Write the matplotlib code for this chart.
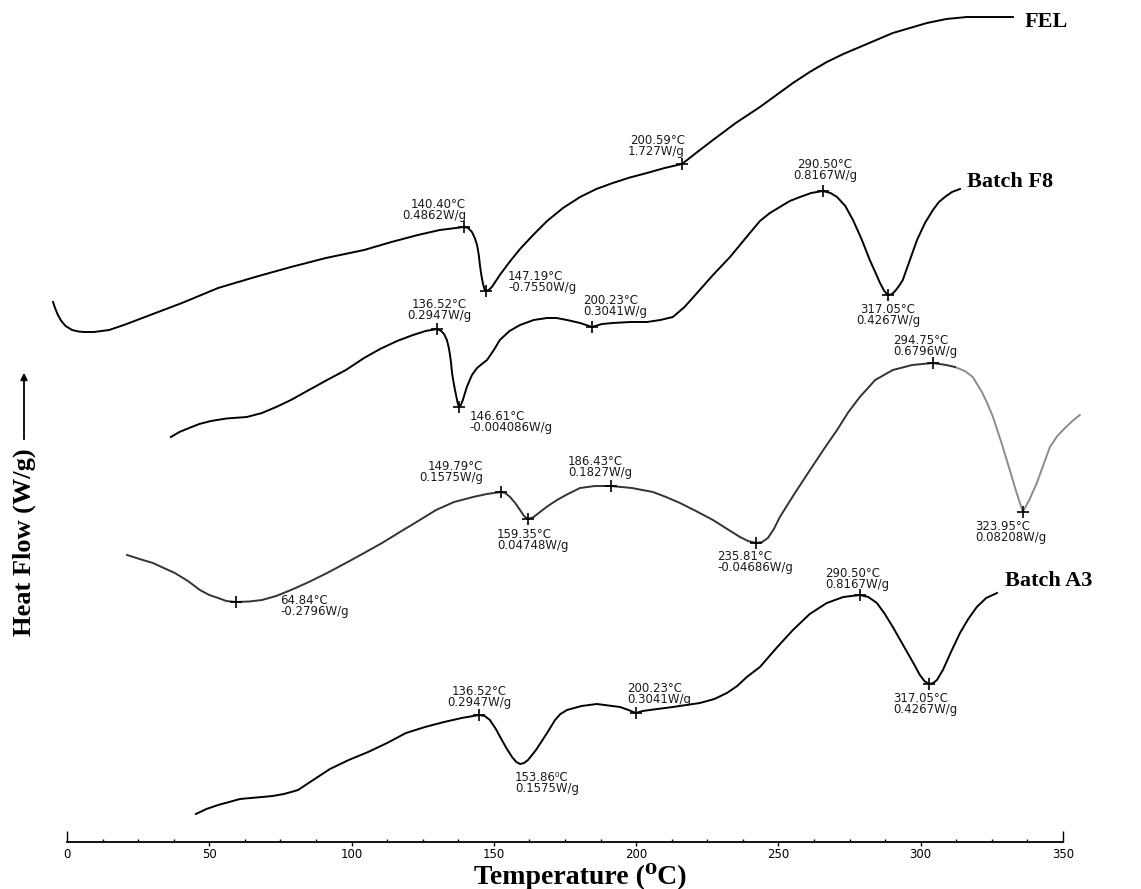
import numpy as np
import matplotlib.pyplot as plt
from matplotlib.ticker import MultipleLocator
from matplotlib.markers import TICKUP

plt.rcParams['font.family'] = ['DejaVu Sans']

# --- data ---
# x = temperature on the plot axis (°C), y = stacked heat flow (arbitrary offset units)
fel_t = [-4.9, -4.2, -3.2, -2.0, -0.5, 1.8, 4.0, 6.0, 9.5, 14.8, 20.0, 27.4, 40.4, 53.1, 66.1,
         78.7, 91.0, 104.4, 114.0, 123.3, 131.0, 139.5, 141.0, 142.3, 143.3, 144.1, 144.7,
         145.1, 145.6, 146.2, 146.7, 147.2, 148.2, 149.3, 150.7, 152.1, 155.5, 159.2, 163.8,
         168.7, 174.3, 180.3, 186.0, 191.8, 197.8, 203.8, 210.0, 216.1, 221.5, 227.0, 235.0,
         243.5, 249.3, 255.1, 261.0, 267.0, 272.8, 278.6, 284.4, 290.2, 296.2, 302.2, 309.0,
         316.2, 332.4]
fel_hf = [5.40, 5.34, 5.27, 5.21, 5.16, 5.12, 5.105, 5.10, 5.10, 5.12, 5.17, 5.25, 5.39, 5.54, 5.65,
          5.75, 5.84, 5.92, 6.00, 6.07, 6.12, 6.15, 6.14, 6.10, 6.04, 5.97, 5.87,
          5.77, 5.67, 5.58, 5.53, 5.51, 5.52, 5.55, 5.61, 5.67, 5.80, 5.93, 6.07,
          6.21, 6.34, 6.45, 6.53, 6.59, 6.645, 6.69, 6.74, 6.78, 6.90, 7.02, 7.19,
          7.35, 7.47, 7.59, 7.70, 7.80, 7.88, 7.95, 8.02, 8.09, 8.14, 8.19, 8.23,
          8.25, 8.25]

f8_t = [36.5, 39.5, 42.9, 46.5, 50.6, 56.0, 63.2, 68.5, 73.5, 78.7, 85.0, 91.4, 98.0, 104.4,
        110.0, 116.0, 121.6, 126.0, 130.0, 131.5, 132.5, 133.5, 134.1, 134.6, 135.0, 135.3,
        136.0, 136.7, 137.2, 137.7, 138.4, 139.1, 140.5, 142.3, 144.1, 145.8, 147.6, 150.0,
        152.1, 155.5, 159.2, 164.0, 168.7, 172.0, 175.7, 180.3, 184.5, 188.0, 191.8, 198.0,
        203.8, 208.5, 212.9, 217.0, 221.4, 227.0, 233.0, 238.5, 243.5, 247.0, 250.5, 254.0,
        257.6, 261.5, 265.6, 268.3, 270.6, 273.5, 276.2, 279.2, 282.1, 284.0, 285.7, 287.2,
        288.5, 290.0, 291.3, 292.6, 293.7, 296.2, 298.7, 301.5, 304.3, 306.4, 308.5, 311.0,
        313.8]
f8_hf = [4.05, 4.10, 4.14, 4.18, 4.21, 4.235, 4.25, 4.29, 4.35, 4.42, 4.52, 4.62, 4.72, 4.84,
         4.93, 5.01, 5.07, 5.11, 5.13, 5.11, 5.08, 5.02, 4.95, 4.87, 4.78, 4.69,
         4.57, 4.47, 4.40, 4.35, 4.37, 4.42, 4.55, 4.67, 4.74, 4.78, 4.82, 4.92,
         5.02, 5.11, 5.17, 5.22, 5.24, 5.24, 5.22, 5.19, 5.15, 5.18, 5.19, 5.20,
         5.20, 5.22, 5.25, 5.35, 5.49, 5.67, 5.85, 6.04, 6.21, 6.29, 6.35, 6.41,
         6.45, 6.49, 6.51, 6.49, 6.45, 6.36, 6.22, 6.03, 5.82, 5.70, 5.59, 5.51,
         5.47, 5.48, 5.52, 5.57, 5.62, 5.82, 6.02, 6.19, 6.32, 6.40, 6.45, 6.50,
         6.53]

atr_t = [21.1, 25.5, 30.2, 34.0, 37.9, 42.5, 46.7, 50.0, 53.1, 56.0, 59.4, 64.0, 68.5, 73.5,
         78.7, 85.0, 91.4, 98.0, 104.4, 110.7, 117.0, 123.4, 129.7, 136.0, 142.7, 147.5, 152.5,
         154.0, 155.7, 157.5, 159.2, 160.6, 162.0, 164.0, 166.2, 169.0, 172.2, 176.0, 180.3,
         185.5, 191.1, 198.5, 205.9, 210.5, 215.4, 221.0, 227.0, 232.0, 236.5, 239.3, 242.1,
         244.3, 246.3, 248.4, 250.5, 255.8, 261.1, 266.0, 270.6, 274.6, 278.6, 284.0, 290.2,
         297.0, 304.3, 309.0, 312.0, 315.5, 318.3, 321.5, 323.5, 325.4, 328.4, 331.3, 333.6,
         335.9, 338.3, 340.8, 343.1, 345.4, 348.0, 350.7, 353.3, 355.9]
atr_hf = [2.87, 2.83, 2.79, 2.74, 2.69, 2.61, 2.52, 2.47, 2.44, 2.41, 2.40, 2.405, 2.42, 2.46,
          2.52, 2.60, 2.69, 2.79, 2.89, 2.99, 3.10, 3.21, 3.32, 3.40, 3.45, 3.48, 3.50,
          3.49, 3.45, 3.39, 3.32, 3.26, 3.23, 3.25, 3.30, 3.36, 3.42, 3.48, 3.54,
          3.56, 3.56, 3.54, 3.50, 3.45, 3.39, 3.31, 3.22, 3.13, 3.05, 3.01, 2.99,
          3.00, 3.04, 3.13, 3.25, 3.49, 3.72, 3.93, 4.12, 4.30, 4.45, 4.62, 4.72,
          4.77, 4.79, 4.77, 4.75, 4.71, 4.65, 4.50, 4.38, 4.25, 3.99, 3.72, 3.50,
          3.30, 3.43, 3.59, 3.77, 3.95, 4.06, 4.14, 4.21, 4.27]

a3_t = [45.3, 49.0, 53.1, 57.0, 60.8, 64.6, 68.5, 72.3, 76.2, 78.8, 81.2, 86.5, 92.4, 99.0,
        105.8, 112.5, 119.1, 125.8, 132.5, 138.7, 144.8, 146.8, 148.6, 150.7, 152.8, 154.6,
        156.4, 157.9, 159.2, 160.6, 162.0, 164.8, 168.7, 171.5, 173.4, 175.7, 180.8, 186.2,
        194.3, 197.3, 199.9, 202.3, 204.8, 212.9, 222.4, 227.5, 231.9, 235.5, 238.9, 243.5,
        249.3, 255.1, 261.0, 267.0, 272.8, 278.6, 281.6, 284.6, 287.4, 290.2, 293.2, 296.2,
        298.0, 299.7, 301.3, 302.9, 304.4, 305.7, 307.8, 310.8, 313.8, 316.7, 319.7, 323.0,
        326.8]
a3_hf = [0.28, 0.33, 0.37, 0.40, 0.43, 0.44, 0.45, 0.46, 0.48, 0.50, 0.52, 0.62, 0.73, 0.82,
         0.90, 0.99, 1.09, 1.15, 1.20, 1.24, 1.27, 1.26, 1.22, 1.13, 1.02, 0.93,
         0.85, 0.80, 0.78, 0.79, 0.82, 0.92, 1.09, 1.22, 1.28, 1.32, 1.36, 1.38,
         1.35, 1.32, 1.29, 1.31, 1.32, 1.35, 1.39, 1.43, 1.49, 1.56, 1.65, 1.75,
         1.94, 2.12, 2.28, 2.39, 2.45, 2.47, 2.45, 2.39, 2.28, 2.15, 2.00, 1.85,
         1.76, 1.67, 1.61, 1.58, 1.59, 1.62, 1.72, 1.91, 2.09, 2.23, 2.35, 2.44,
         2.49]

# peak / onset marks and their read-outs
fel_mk_t = [139.5, 147.2, 216.1]
fel_mk_hf = [6.15, 5.51, 6.78]
fel_mk_txt = ['140.40°C\n0.4862W/g', '147.19°C\n-0.7550W/g', '200.59°C\n1.727W/g']

f8_mk_t = [130.0, 137.7, 184.5, 265.6, 288.5]
f8_mk_hf = [5.13, 4.35, 5.15, 6.51, 5.47]
f8_mk_txt = ['136.52°C\n0.2947W/g', '146.61°C\n-0.004086W/g', '200.23°C\n0.3041W/g',
             '290.50°C\n0.8167W/g', '317.05°C\n0.4267W/g']

atr_mk_t = [59.4, 152.5, 162.0, 191.1, 242.1, 304.3, 335.9]
atr_mk_hf = [2.40, 3.50, 3.23, 3.56, 2.99, 4.79, 3.30]
atr_mk_txt = ['64.84°C\n-0.2796W/g', '149.79°C\n0.1575W/g', '159.35°C\n0.04748W/g',
              '186.43°C\n0.1827W/g', '235.81°C\n-0.04686W/g', '294.75°C\n0.6796W/g',
              '323.95°C\n0.08208W/g']

a3_mk_t = [144.8, 159.2, 199.9, 278.6, 302.9]
a3_mk_hf = [1.27, 0.78, 1.29, 2.47, 1.58]
a3_mk_txt = ['136.52°C\n0.2947W/g', '153.86\u2070C\n0.1575W/g', '200.23°C\n0.3041W/g',
             '290.50°C\n0.8167W/g', '317.05°C\n0.4267W/g']
a3_mk_show = [True, False, True, True, True]

temp_ticks = [0, 50, 100, 150, 200, 250, 300, 350]

# text placement of the read-outs (ha, va, dx px, dy px)
fel_pos = [('right', 'bottom', 2, 5), ('left', 'center', 22, 9), ('right', 'bottom', 3, 6)]
f8_pos = [('center', 'bottom', 2, 7), ('left', 'top', 11, -3), ('left', 'bottom', -9, 9),
          ('center', 'bottom', 2, 9), ('center', 'top', 0, -8)]
atr_pos = [('left', 'center', 44, -4), ('right', 'bottom', -18, 8), ('left', 'top', -31, -9),
           ('left', 'bottom', -43, 7), ('left', 'top', -39, -7), ('left', 'bottom', -40, 5),
           ('left', 'top', -48, -8)]
a3_pos = [('center', 'bottom', 0, 6), ('left', 'top', -5, -7), ('left', 'bottom', -9, 7),
          ('left', 'bottom', -35, 4), ('left', 'top', -36, -8)]

serif = ['Liberation Serif', 'DejaVu Serif']

fig = plt.figure(figsize=(11.41, 8.89), dpi=100)
ax = fig.add_axes([67 / 1141, 47 / 889, 996 / 1141, 842 / 889])


def draw_curve(t, hf, mk_t, mk_hf, mk_txt, pos, mk_show=None, color='black'):
    ax.plot(t, hf, color=color, lw=1.4, clip_on=False)
    if mk_show is None:
        mk_show = [True] * len(mk_t)
    for x, y, s, p, show in zip(mk_t, mk_hf, mk_txt, pos, mk_show):
        if show:
            ax.plot(x, y, marker='+', ms=9, mew=1.2, color='black', clip_on=False)
        ax.annotate(s, (x, y), xytext=(p[2], p[3]), textcoords='offset pixels',
                    ha=p[0], va=p[1], fontsize=8.5, linespacing=0.8, color='#1a1a1a')


def name_label(name, t, hf, off):
    ax.annotate(name, (t[-1], hf[-1]), xytext=off, textcoords='offset pixels',
                ha='left', va='center', fontsize=16, fontweight='bold', family=serif)


draw_curve(fel_t, fel_hf, fel_mk_t, fel_mk_hf, fel_mk_txt, fel_pos)
name_label('FEL', fel_t, fel_hf, (12, -5))

draw_curve(f8_t, f8_hf, f8_mk_t, f8_mk_hf, f8_mk_txt, f8_pos)
name_label('Batch F8', f8_t, f8_hf, (7, 7))

# ATR trace is paler on the right part of the scan
atr_t = np.array(atr_t)
atr_hf = np.array(atr_hf)
pale = atr_t >= 312.0
ax.plot(atr_t[pale], atr_hf[pale], color='#8c8c8c', lw=1.4, clip_on=False)
dark = atr_t <= 312.0
draw_curve(atr_t[dark], atr_hf[dark], atr_mk_t, atr_mk_hf, atr_mk_txt, atr_pos, color='#333333')
name_label('ATR', atr_t, atr_hf, (10, 14))

draw_curve(a3_t, a3_hf, a3_mk_t, a3_mk_hf, a3_mk_txt, a3_pos, mk_show=a3_mk_show)
name_label('Batch A3', a3_t, a3_hf, (8, 12))

# axes
ax.set_xlim(0, 350)
ax.set_ylim(0, 8.42)
for s in ['left', 'right', 'top']:
    ax.spines[s].set_visible(False)
ax.spines['bottom'].set_linewidth(1.3)
ax.set_yticks([])
ax.set_xticks(temp_ticks)
ax.xaxis.set_minor_locator(MultipleLocator(12.5))
ax.tick_params(axis='x', which='major', direction='out', length=3, width=1, pad=1, labelsize=8.5)
ax.tick_params(axis='x', which='minor', direction='in', length=2.5, width=1)
ticks = ax.xaxis.get_major_ticks()
for tk in (ticks[0], ticks[-1]):
    tk.tick1line.set_marker(TICKUP)
    tk.tick1line.set_markersize(8)

fig.text(580 / 1141, 1 - 884 / 889, 'Temperature (\u2070C)', ha='center', va='baseline',
         fontsize=20, fontweight='bold', family=serif)

fig.text(24 / 1141, 1 - 542 / 889, 'Heat Flow (W/g)', rotation=90, ha='center', va='center',
         fontsize=19, fontweight='bold', family=serif)
ax.annotate('', xy=(24 / 1141, 1 - 370 / 889), xytext=(24 / 1141, 1 - 442 / 889),
            xycoords='figure fraction', textcoords='figure fraction',
            arrowprops=dict(arrowstyle='-|>', lw=1.3, color='black', mutation_scale=10))

fig.savefig('out.png', dpi=100)
